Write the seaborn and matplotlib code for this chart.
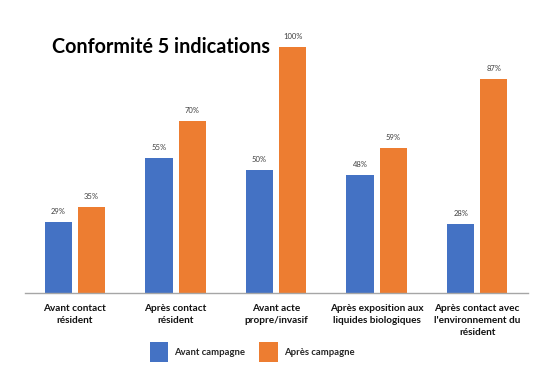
import matplotlib
matplotlib.use("Agg")
import matplotlib.pyplot as plt
from matplotlib.patches import Patch
import seaborn as sns
import pandas as pd

categories = ["Avant contact\nrésident", "Après contact\nrésident", "Avant acte\npropre/invasif",
              "Après exposition aux\nliquides biologiques",
              "Après contact avec\nl'environnement du\nrésident"]
series_names = ["Avant campagne", "Après campagne"]
avant = [29, 55, 50, 48, 28]
apres = [35, 70, 100, 59, 87]
colors = ["#4472C4", "#ED7D31"]

df = pd.DataFrame({
    "cat": categories * 2,
    "serie": [series_names[0]] * len(categories) + [series_names[1]] * len(categories),
    "val": avant + apres,
})

sns.set_theme(style="white")
plt.rcParams['font.family'] = ['Lato', 'DejaVu Sans']

fig = plt.figure(figsize=(5.55, 3.69), dpi=100)
ax = fig.add_axes([0.0445, 0.206, 0.906, 0.667])
sns.barplot(data=df, x="cat", y="val", hue="serie", palette=colors, ax=ax,
            width=0.66, gap=0.18, saturation=1, legend=False, linewidth=0)

for cont in ax.containers:
    ax.bar_label(cont, labels=[f"{int(v)}%" for v in cont.datavalues], padding=5,
                 fontsize=5.5, color="#404040")

ax.set_ylim(0, 100)
ax.set_xlim(-0.5, 4.5)
ax.set_yticks([])
ax.set_xlabel("")
ax.set_ylabel("")
for s in ["top", "right", "left"]:
    ax.spines[s].set_visible(False)
ax.spines["bottom"].set_color("#A6A6A6")
ax.spines["bottom"].set_linewidth(1)
ax.tick_params(axis="x", length=0, pad=8)
for t in ax.get_xticklabels():
    t.set_fontsize(7.2)
    t.set_fontweight("bold")
    t.set_color("#111111")
    t.set_linespacing(1.4)

handles = [Patch(facecolor=c, edgecolor="none", linewidth=0) for c in colors]
leg = ax.legend(handles, series_names, loc="center", bbox_to_anchor=(0.452, -0.24), ncol=2,
                frameon=False, fontsize=6.8, handlelength=2.0, handleheight=2.8,
                columnspacing=1.5, handletextpad=0.6)
for t in leg.get_texts():
    t.set_fontweight("bold")

fig.text(0.094, 0.873, "Conformité 5 indications", fontsize=14.2, fontweight="bold",
         color="black", va="center", ha="left")

fig.savefig("out.png", dpi=100, facecolor="white")
